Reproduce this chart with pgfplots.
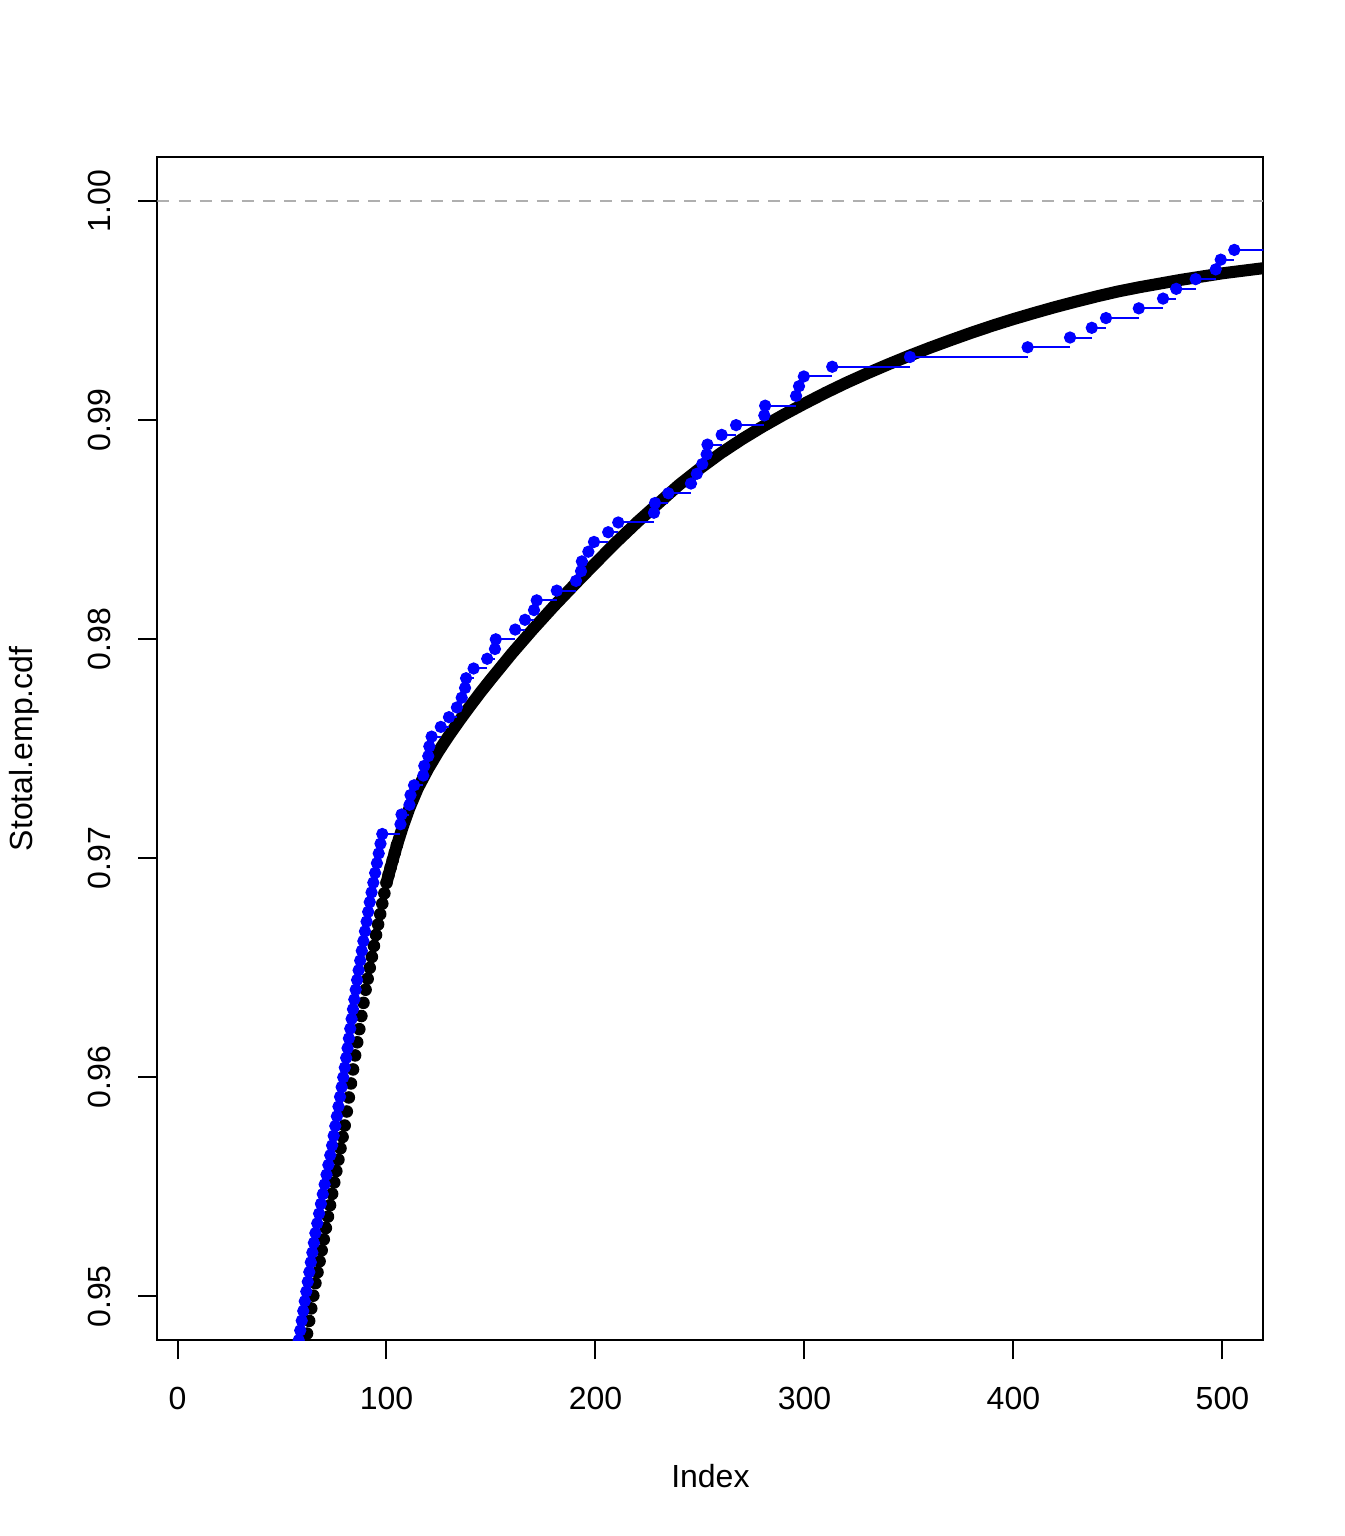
\documentclass[border=0pt]{standalone}
\usepackage{pgfplots}
\pgfplotsset{compat=1.18}
\usepackage{fontspec}
\setmainfont{Liberation Sans}
\definecolor{dashgray}{RGB}{175,175,175}

\pgfplotstableread{
x y
61 0.94773
62 0.94830
63 0.94888
64 0.94945
65 0.95003
66 0.95060
67 0.95110
68 0.95160
69 0.95210
70 0.95260
71 0.95312
72 0.95364
73 0.95416
74 0.95468
75 0.95520
76 0.95572
77 0.95624
78 0.95676
79 0.95728
80 0.95780
81 0.95844
82 0.95908
83 0.95972
84 0.96036
85 0.96100
86 0.96160
87 0.96220
88 0.96280
89 0.96340
90 0.96400
91 0.96450
92 0.96500
93 0.96550
94 0.96600
95 0.96650
96 0.96698
97 0.96745
98 0.96793
99 0.96840
100 0.96888
101 0.96924
102 0.96958
103 0.96992
104 0.97026
105 0.97060
}\blackdots

\pgfplotstableread{
x y
100 0.96888
102 0.96958
105 0.97060
108 0.97150
111 0.97230
115 0.97320
120 0.97410
125 0.97490
130 0.97562
135 0.97630
140 0.97695
145 0.97758
150 0.97818
160 0.97935
170 0.98045
180 0.98150
190 0.98250
200 0.98348
210 0.98444
220 0.98535
230 0.98620
240 0.98705
250 0.98780
260 0.98850
270 0.98913
280 0.98971
290 0.99025
300 0.99076
310 0.99125
320 0.99171
330 0.99214
340 0.99255
350 0.99294
360 0.99331
370 0.99366
380 0.99400
390 0.99432
400 0.99462
410 0.99490
420 0.99517
430 0.99542
440 0.99566
450 0.99588
460 0.99607
470 0.99624
480 0.99641
490 0.99656
500 0.99671
510 0.99683
520 0.99695
}\blackline

\pgfplotstableread{
x y
57.30 0.947556
58.00 0.948000
58.73 0.948444
59.45 0.948889
60.18 0.949333
60.90 0.949778
61.63 0.950222
62.35 0.950667
63.08 0.951111
63.80 0.951556
64.53 0.952000
65.26 0.952444
65.98 0.952889
66.87 0.953333
67.76 0.953778
68.64 0.954222
69.53 0.954667
70.42 0.955111
71.31 0.955556
72.20 0.956000
73.09 0.956444
73.98 0.956889
74.74 0.957333
75.51 0.957778
76.27 0.958222
77.03 0.958667
77.79 0.959111
78.55 0.959556
79.31 0.960000
80.06 0.960444
80.72 0.960889
81.37 0.961333
82.02 0.961778
82.67 0.962222
83.32 0.962667
83.97 0.963111
84.62 0.963556
85.27 0.964000
85.92 0.964444
86.67 0.964889
87.43 0.965333
88.19 0.965778
88.95 0.966222
89.71 0.966667
90.48 0.967111
91.24 0.967556
92.00 0.968000
92.86 0.968444
93.71 0.968889
94.57 0.969333
95.43 0.969778
96.29 0.970222
97.14 0.970667
98.00 0.971111
106.7 0.971556
107.2 0.972000
111.0 0.972444
111.5 0.972889
113.2 0.973333
117.6 0.973778
118.1 0.974222
120.0 0.974667
120.5 0.975111
121.6 0.975556
126.0 0.976000
129.9 0.976444
133.7 0.976889
136.0 0.977333
137.6 0.977778
138.1 0.978222
141.7 0.978667
148.2 0.979111
151.9 0.979556
152.3 0.980000
161.6 0.980444
166.3 0.980889
170.6 0.981333
171.9 0.981778
181.5 0.982222
190.7 0.982667
193.1 0.983111
193.5 0.983556
196.6 0.984000
199.3 0.984444
206.1 0.984889
210.9 0.985333
228.0 0.985778
228.5 0.986222
234.9 0.986667
245.7 0.987111
248.5 0.987556
251.1 0.988000
253.2 0.988444
253.6 0.988889
260.4 0.989333
267.3 0.989778
280.8 0.990222
281.2 0.990667
296.0 0.991111
297.4 0.991556
299.7 0.992000
313.3 0.992444
350.5 0.992889
406.8 0.993333
427.1 0.993778
437.5 0.994222
444.3 0.994667
460.0 0.995111
471.6 0.995556
477.9 0.996000
487.2 0.996444
496.8 0.996889
499.2 0.997333
505.7 0.997778
560.0 0.998222
}\bluestep

\begin{document}
\begin{tikzpicture}
\path[use as bounding box] (0,0) rectangle (504pt,576pt);
\begin{axis}[
  at={(59.04pt,73.44pt)}, anchor=south west,
  scale only axis, width=414.72pt, height=443.52pt,
  xmin=-9.6, xmax=519.6, ymin=0.948, ymax=1.002,
  axis line style={line width=0.75pt},
  xtick={0,100,200,300,400,500},
  ytick={0.95,0.96,0.97,0.98,0.99,1.00},
  tick pos=left, tick align=outside,
  major tick length=7.2pt,
  every tick/.style={black, line width=0.75pt},
  xticklabel shift=6.75pt, yticklabel shift=6.75pt,
  scaled y ticks=false,
  /pgf/number format/assume math mode=true,
  yticklabel style={/pgf/number format/fixed, /pgf/number format/fixed zerofill, /pgf/number format/precision=2, rotate=90, anchor=south},
  tick label style={font=\fontsize{12}{14.4}\selectfont},
  label style={font=\fontsize{12}{14.4}\selectfont},
  xlabel={Index}, ylabel={Stotal.emp.cdf},
  xlabel style={at={(axis description cs:0.5,-0.115)}, anchor=center},
  ylabel style={at={(axis description cs:-0.1206,0.5)}, anchor=center},
  clip marker paths=true,
]
\addplot[dashgray, line width=0.75pt, dash pattern=on 4.5pt off 3.4pt] coordinates {(-9.6,1) (519.6,1)};
\addplot[black, line width=4.5pt, line cap=round, line join=round] table[x=x,y=y] {\blackline};
\addplot[black, only marks, mark=*, mark size=2.15pt, mark options={line width=0.4pt}] table[x=x,y=y] {\blackdots};
\addplot[blue, line width=0.75pt, jump mark left, mark=*, mark size=2.1pt, mark options={solid, fill=blue, draw=blue, line width=0.4pt}] table[x=x,y=y] {\bluestep};
\end{axis}
\end{tikzpicture}
\end{document}
